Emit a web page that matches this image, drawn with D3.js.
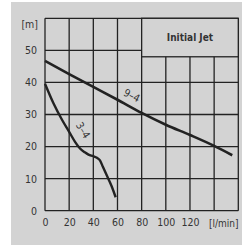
<!DOCTYPE html>
<html><head><meta charset="utf-8">
<script src="https://cdn.jsdelivr.net/npm/d3@7"></script>
<style>html,body{margin:0;padding:0;background:#fff;}svg{display:block;}</style>
</head><body>
<script>
const xTicks = [0,20,40,60,80,100,120];
const yTicks = [0,10,20,30,40,50];
const xUnit = "[l/min]";
const yUnit = "[m]";
const legendTitle = "Initial Jet";
const series94Name = "9–4";
const series94Flow = [0,20,40,60,80,100,120,140,155];
const series94Head = [46.7,42.6,38.6,34.6,30.5,26.8,23.6,20.2,17.3];
const series34Name = "3–4";
const series34Flow = [0,7,14.3,20,25,29,33,36,40,43,45.5,48,51,55,58.5];
const series34Head = [39.6,33.5,28.2,24.6,21.4,19.4,18.2,17.5,17.0,16.5,15.7,13.6,11.1,7.8,4.2];

const W=246,H=245;
const svg=d3.select("body").append("svg").attr("width",W).attr("height",H);
svg.append("rect").attr("x",11).attr("y",2).attr("width",231).attr("height",243).attr("fill","#d3d3d3");
const x=d3.scaleLinear().domain([0,160]).range([45,238.3]);
const y=d3.scaleLinear().domain([0,60]).range([210.7,18.3]);
const font="'DejaVu Sans Condensed', 'DejaVu Sans', sans-serif";
const ink="#222";
// grid
const g=svg.append("g");
const gx=d3.range(0,161,20), gy=d3.range(0,61,10);
g.selectAll(".vx").data(gx).join("line").attr("x1",d=>x(d)).attr("x2",d=>x(d)).attr("y1",y(0)).attr("y2",y(60)).attr("stroke",ink).attr("stroke-width",1.3);
g.selectAll(".hy").data(gy).join("line").attr("y1",d=>y(d)).attr("y2",d=>y(d)).attr("x1",x(0)).attr("x2",x(160)).attr("stroke",ink).attr("stroke-width",1.3);
// legend box
svg.append("rect").attr("x",x(80)).attr("y",y(60)).attr("width",x(160)-x(80)).attr("height",y(48)-y(60)).attr("fill","#d3d3d3").attr("stroke",ink).attr("stroke-width",1.3);
svg.append("text").attr("x",(x(80)+x(160))/2).attr("y",(y(60)+y(48))/2+3.5).attr("text-anchor","middle").attr("font-family",font).attr("font-weight","bold").attr("font-size",10).attr("fill","#333").text(legendTitle);
// axes
const xa=svg.append("g").attr("transform",`translate(0,${y(0)})`).call(d3.axisBottom(x).tickValues(xTicks).tickSize(0).tickPadding(8));
xa.select(".domain").remove();
const ya=svg.append("g").attr("transform",`translate(${x(0)},0)`).call(d3.axisLeft(y).tickValues(yTicks).tickSize(0).tickPadding(8));
ya.select(".domain").remove();
svg.selectAll(".tick text").attr("font-family",font).attr("font-size",10.5).attr("fill","#333");
svg.append("text").attr("x",238.5).attr("y",y(0)+16.5).attr("text-anchor","end").attr("font-family",font).attr("font-size",10).attr("fill","#333").text(xUnit);
svg.append("text").attr("x",x(0)-7).attr("y",y(60)+10).attr("text-anchor","end").attr("font-family",font).attr("font-size",10.5).attr("fill","#333").text(yUnit);
// curves
const line=d3.line().x(d=>x(d[0])).y(d=>y(d[1])).curve(d3.curveMonotoneX);
svg.append("path").datum(series94Flow.map((f,i)=>[f,series94Head[i]])).attr("d",line).attr("fill","none").attr("stroke",ink).attr("stroke-width",2.6);
svg.append("path").datum(series34Flow.map((f,i)=>[f,series34Head[i]])).attr("d",line).attr("fill","none").attr("stroke",ink).attr("stroke-width",2.4);
// labels
svg.append("text").attr("transform",`translate(${x(70.5)},${y(34.9)}) rotate(27)`).attr("text-anchor","middle").attr("font-family",font).attr("font-size",10.5).attr("fill","#333").text(series94Name);
svg.append("text").attr("transform",`translate(${x(29)},${y(24.5)}) rotate(58)`).attr("text-anchor","middle").attr("font-family",font).attr("font-size",10.5).attr("fill","#333").text(series34Name);
</script>
</body></html>
